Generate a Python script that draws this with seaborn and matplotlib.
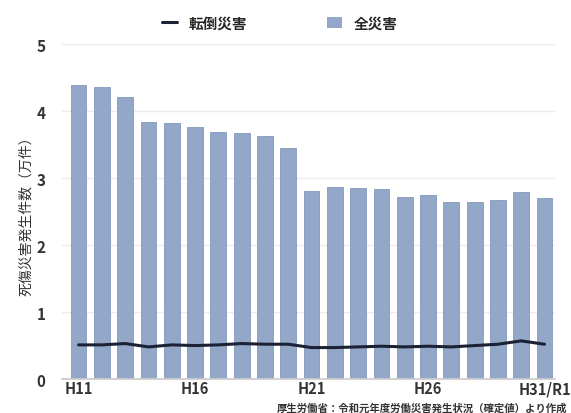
import numpy as np
import pandas as pd
import seaborn as sns
import matplotlib.pyplot as plt

years = ['H11', 'H12', 'H13', 'H14', 'H15', 'H16', 'H17', 'H18', 'H19', 'H20',
         'H21', 'H22', 'H23', 'H24', 'H25', 'H26', 'H27', 'H28', 'H29', 'H30', 'H31/R1']
all_cases = [4.39, 4.36, 4.21, 3.84, 3.82, 3.76, 3.69, 3.67, 3.63, 3.45,
             2.81, 2.87, 2.85, 2.84, 2.72, 2.75, 2.64, 2.64, 2.67, 2.79, 2.70]
fall_cases = [0.51, 0.51, 0.53, 0.48, 0.51, 0.50, 0.51, 0.53, 0.52, 0.52,
              0.47, 0.47, 0.48, 0.49, 0.48, 0.49, 0.48, 0.50, 0.52, 0.57, 0.52]
tick_labels = ['H11', 'H16', 'H21', 'H26', 'H31/R1']

sns.set_theme(style='white')
plt.rcParams['font.family'] = ['Noto Sans CJK JP', 'DejaVu Sans']

df = pd.DataFrame({'year': years, 'all': all_cases, 'fall': fall_cases,
                   'pos': np.arange(len(years))})

fig = plt.figure(figsize=(5.71, 4.14), dpi=100)
ax = fig.add_axes([0.109, 0.082, 0.863, 0.809])

bar_color = '#93a8c8'
line_color = '#1c2233'

sns.barplot(data=df, x='year', y='all', color=bar_color, width=0.68,
            edgecolor='#8299ba', linewidth=0.6, saturation=1, ax=ax, zorder=2)
sns.lineplot(data=df, x='pos', y='fall', color=line_color, linewidth=2.2,
             ax=ax, zorder=3)

ax.set_ylim(0, 5)
ax.set_xlim(-0.7, 20.45)
ax.set_yticks([0, 1, 2, 3, 4, 5])
ax.set_yticklabels(['0', '1', '2', '3', '4', '5'], fontsize=11, fontweight='bold',
                   color='#333333')
idx = [years.index(t) for t in tick_labels]
ax.set_xticks(idx)
ax.set_xticklabels(tick_labels, fontsize=10.5, fontweight='bold', color='#333333')
ax.tick_params(axis='x', length=0, pad=1)
ax.tick_params(axis='y', length=0, pad=12)
ax.yaxis.grid(True, color='#ececec', linewidth=1, zorder=0)
ax.set_axisbelow(True)
for s in ['top', 'right', 'left']:
    ax.spines[s].set_visible(False)
ax.spines['bottom'].set_color('#cccccc')
ax.set_xlabel('')
ax.set_ylabel('死傷災害発生件数（万件）', fontsize=10, color='#333333', labelpad=2)

handles = [plt.Line2D([0], [0], color=line_color, linewidth=2.2),
           plt.Rectangle((0, 0), 1, 1, facecolor=bar_color, edgecolor='none')]
fig.legend(handles, ['転倒災害', '全災害'], loc='upper center',
           bbox_to_anchor=(0.49, 0.995), ncol=2, frameon=False,
           columnspacing=5.5, handlelength=1.0, handleheight=0.8,
           prop={'size': 10.5, 'weight': 'bold'})

fig.text(0.993, 0.0, '厚生労働省：令和元年度労働災害発生状況（確定値）より作成',
         ha='right', va='bottom', fontsize=7.5, fontweight='bold', color='#333333')

fig.savefig('out.png', dpi=100)
